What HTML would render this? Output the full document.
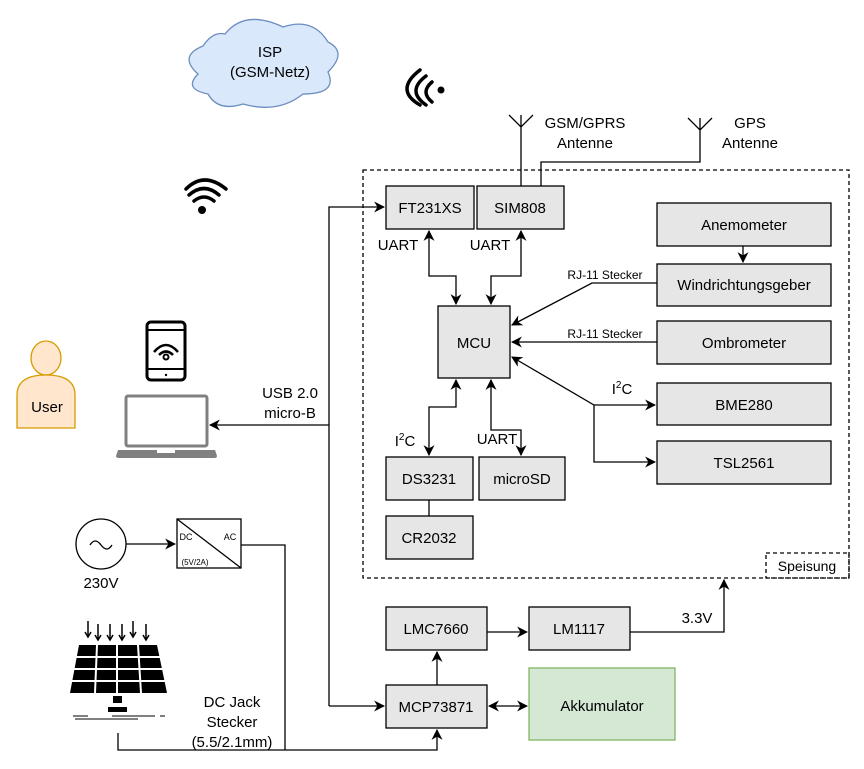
<!DOCTYPE html>
<html><head><meta charset="utf-8"><style>body{margin:0;background:#fff}svg{display:block;font-family:"Liberation Sans",sans-serif}</style></head><body>
<svg width="864" height="769" viewBox="0 0 864 769" xmlns="http://www.w3.org/2000/svg">
<defs>
<marker id="a" viewBox="0 0 10 10" refX="9" refY="5" markerWidth="11" markerHeight="11" orient="auto-start-reverse" markerUnits="userSpaceOnUse"><path d="M0,0 L10,5 L0,10 L3,5 z" fill="#000"/></marker>
</defs>
<g fill="none" stroke="#000" stroke-width="1.3">
<rect x="363" y="170" width="486" height="408" stroke-dasharray="4,3"/>
<rect x="766" y="553" width="83" height="25" stroke-dasharray="4,3"/>
</g>
<g fill="#e6e6e6" stroke="#000" stroke-width="1.3">
<rect x="386" y="186" width="88" height="43"/>
<rect x="477" y="186" width="87" height="43"/>
<rect x="438" y="306" width="72" height="72"/>
<rect x="386" y="457" width="87" height="43"/>
<rect x="479" y="457" width="86" height="43"/>
<rect x="386" y="516" width="87" height="43"/>
<rect x="657" y="203" width="174" height="43"/>
<rect x="657" y="264" width="174" height="42"/>
<rect x="657" y="321" width="174" height="43"/>
<rect x="657" y="383" width="174" height="42"/>
<rect x="657" y="441" width="174" height="43"/>
<rect x="386" y="607" width="101" height="43"/>
<rect x="529" y="607" width="101" height="43"/>
<rect x="386" y="685" width="101" height="43"/>
</g>
<rect x="529" y="668" width="146" height="72" fill="#d5e8d4" stroke="#82b366" stroke-width="1.3"/>
<g fill="none" stroke="#000" stroke-width="1.3">
<path d="M329,706 V207 H384" marker-end="url(#a)"/>
<path d="M329,425 H210" marker-end="url(#a)"/>
<path d="M329,706 H384" marker-end="url(#a)"/>
<path d="M429,231 V276 H456 V304" marker-start="url(#a)" marker-end="url(#a)"/>
<path d="M521,231 V276 H491 V304" marker-start="url(#a)" marker-end="url(#a)"/>
<path d="M456,380 V407 H429 V455" marker-start="url(#a)" marker-end="url(#a)"/>
<path d="M491,380 V430 H521 V455" marker-start="url(#a)" marker-end="url(#a)"/>
<path d="M429,500 V516"/>
<path d="M657,283 H592 L512,325" marker-end="url(#a)"/>
<path d="M657,342 H512" marker-end="url(#a)"/>
<path d="M512,357 L594,405 H655" marker-start="url(#a)" marker-end="url(#a)"/>
<path d="M594,405 V462 H655" marker-end="url(#a)"/>
<path d="M743,246 V262" marker-end="url(#a)"/>
<path d="M521,186 V115 M509,115 L521,127 L533,115"/>
<path d="M541,186 V162 H700 V118 M688,118 L700,130 L712,118"/>
<path d="M487,632 H527" marker-end="url(#a)"/>
<path d="M630,632 H724 V580" marker-end="url(#a)"/>
<path d="M437,685 V652" marker-end="url(#a)"/>
<path d="M489,706 H527" marker-start="url(#a)" marker-end="url(#a)"/>
<path d="M118,733 V750 H437 V730" marker-end="url(#a)"/>
<path d="M241,545 H285 V750"/>
<path d="M126,544 H175" marker-end="url(#a)"/>
<circle cx="101" cy="544" r="25"/>
<path d="M90,545 q5,-8 11,0 t11,0"/>
<rect x="177" y="519" width="64" height="49"/>
<path d="M177,519 L241,568"/>
</g>
<g font-size="15" text-anchor="middle" fill="#000">
<text x="430" y="213">FT231XS</text>
<text x="520" y="213">SIM808</text>
<text x="474" y="348">MCU</text>
<text x="429" y="484">DS3231</text>
<text x="522" y="484">microSD</text>
<text x="429" y="543">CR2032</text>
<text x="744" y="230">Anemometer</text>
<text x="744" y="290">Windrichtungsgeber</text>
<text x="744" y="348">Ombrometer</text>
<text x="744" y="410">BME280</text>
<text x="744" y="468">TSL2561</text>
<text x="436" y="634">LMC7660</text>
<text x="579" y="634">LM1117</text>
<text x="436" y="712">MCP73871</text>
<text x="602" y="711">Akkumulator</text>
<text x="807" y="571" font-size="14">Speisung</text>
<text x="398" y="250">UART</text>
<text x="490" y="250">UART</text>
<text x="497" y="444">UART</text>
<text x="697" y="623">3.3V</text>
<text x="585" y="128">GSM/GPRS</text>
<text x="585" y="148">Antenne</text>
<text x="750" y="128">GPS</text>
<text x="750" y="148">Antenne</text>
<text x="290" y="398">USB 2.0</text>
<text x="290" y="418">micro-B</text>
<text x="232" y="707">DC Jack</text>
<text x="232" y="727">Stecker</text>
<text x="232" y="747">(5.5/2.1mm)</text>
<text x="101" y="588">230V</text>
<text x="405" y="446">I<tspan font-size="10" dy="-6">2</tspan><tspan dy="6">C</tspan></text>
<text x="622" y="394">I<tspan font-size="10" dy="-6">2</tspan><tspan dy="6">C</tspan></text>
<text x="605" y="279" font-size="12">RJ-11 Stecker</text>
<text x="605" y="338" font-size="12">RJ-11 Stecker</text>
<text x="186" y="540" font-size="9">DC</text>
<text x="230" y="540" font-size="9">AC</text>
<text x="195" y="565" font-size="8">(5V/2A)</text>
</g>
<path d="M225,34 q20,-25 58,-7 q30,-10 45,15 q20,10 0,30 q10,22 -25,22 q-25,20 -60,10 q-25,8 -35,-10 q-25,-5 -10,-20 q-20,-18 5,-28 q10,-15 22,-12z" fill="#dae8fc" stroke="#6c8ebf" stroke-width="1.3"/>
<text x="270" y="57" font-size="15" text-anchor="middle">ISP</text>
<text x="270" y="77" font-size="15" text-anchor="middle">(GSM-Netz)</text>
<g fill="none" stroke="#000" stroke-width="3.5" stroke-linecap="round">
<path d="M189,195 q15,-13 30,0 M194,201 q10,-8 20,0"/>
<path d="M186,189 q18,-18 40,0" stroke-width="3.5"/>
<path d="M432,82 q-12,10 0,20 M426,76 q-20,15 0,29 M420,70 q-26,20 0,35"/>
</g>
<circle cx="202" cy="210" r="4"/>
<circle cx="441" cy="90" r="3.5"/>
<rect x="147" y="322" width="38" height="58" rx="4" fill="none" stroke="#000" stroke-width="3"/>
<path d="M148,330 H184 M148,369 H184" stroke="#000" stroke-width="2"/>
<path d="M154,352 q12,-14 24,0 M159,355 q7,-7 14,0" fill="none" stroke="#000" stroke-width="2.5"/>
<circle cx="166" cy="357" r="2.5" fill="none" stroke="#000" stroke-width="2"/>
<circle cx="166" cy="375" r="1.2"/>
<rect x="126" y="396" width="81" height="50" rx="2" fill="none" stroke="#808080" stroke-width="3"/>
<path d="M118,450 H215 L217,456 Q217,458 214,458 H119 Q116,458 116,456 Z" fill="#808080"/>
<rect x="157" y="450" width="18" height="3" fill="#fff"/>
<ellipse cx="46" cy="358" rx="15" ry="17" fill="#ffe6cc" stroke="#d79b00" stroke-width="1.3"/>
<path d="M17,428 V395 q0,-20 29,-20 q29,0 29,20 V428 Z" fill="#ffe6cc" stroke="#d79b00" stroke-width="1.3"/>
<text x="47" y="412" font-size="15" text-anchor="middle">User</text>
<g stroke="#000" stroke-width="1.5" fill="none">
<path d="M88,621 V636 M98,624 V639 M110,624 V639 M122,624 V639 M133,621 V636 M146,624 V639"/>
<path d="M85,632 l3,5 l3,-5 M95,635 l3,5 l3,-5 M107,635 l3,5 l3,-5 M119,635 l3,5 l3,-5 M130,632 l3,5 l3,-5 M143,635 l3,5 l3,-5"/>
</g>
<path d="M79,645 H157 L167,693 H70 Z" fill="#000"/>
<path d="M97,645 L95,693 M117,645 V693 M138,645 L141,693 M76,657 H160 M74,669 H163 M72,681 H165" stroke="#fff" stroke-width="2"/>
<rect x="113" y="696" width="9" height="7"/>
<rect x="108" y="707" width="19" height="5"/>
<path d="M73,716 H88 M112,716 H155 M160,716 H165 M75,719 H138" stroke="#000" stroke-width="1"/>
</svg>
</body></html>
